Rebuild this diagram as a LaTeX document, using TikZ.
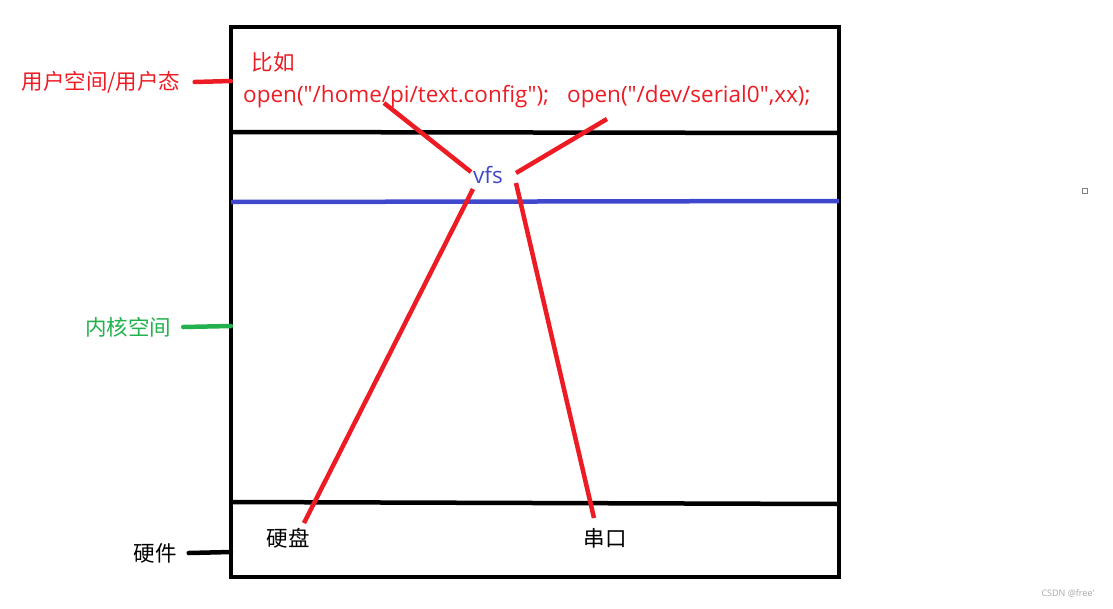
\documentclass[tikz,border=0pt]{standalone}
\usepackage{fontspec}
\setmainfont{Noto Sans CJK SC}
\newfontfamily\latinfont{Open Sans}
\usetikzlibrary{positioning,calc}
\definecolor{penred}{RGB}{237,28,36}
\definecolor{penblue}{RGB}{63,72,204}
\definecolor{pengreen}{RGB}{34,177,76}
\tikzset{
    redline/.style={draw=penred,line width=4.5pt},
    blackline/.style={draw=black,line width=4.5pt},
    lbl/.style={inner sep=0pt,font=\fontsize{21.5}{21.5}\selectfont},
    code/.style={inner sep=0pt,text=penred,font=\latinfont\fontsize{22.5}{22.5}\selectfont}
}
\begin{document}
\begin{tikzpicture}[x=1pt,y=-1pt]
    \useasboundingbox (0,0) rectangle (1113,608);

    % layers
    \draw[blackline] (231,27) rectangle (839,577);
    \draw[blackline] (231,132) -- (839,133);
    \draw[draw=penblue,line width=4.5pt] (231,202) -- (839,201);
    \draw[blackline] (231,502) -- (839,504);

    % labels on the left
    \node[lbl,text=penred] (user) at (101,82) {用户空间/用户态};
    \node[lbl,text=pengreen] (kernel) at (128,327) {内核空间};
    \node[lbl] (hw) at (155,553) {硬件};
    \coordinate (userend) at (231,81);
    \coordinate (kernelend) at (231,326);
    \coordinate (hwend) at (231,552);
    \draw[redline,line cap=round] ([xshift=14pt]user.east) -- (userend);
    \draw[draw=pengreen,line width=4.5pt,line cap=round] ([xshift=12pt]kernel.east) -- (kernelend);
    \draw[blackline,line cap=round] ([xshift=12pt]hw.east) -- (hwend);

    % user space
    \node[lbl,text=penred] (eg) at (273,62) {比如};
    \node[code,anchor=west] (open1) at (243,97) {open("/home/pi/text.config");};
    \node[code,anchor=west] (open2) at (567,97) {open("/dev/serial0",xx);};

    % vfs
    \node[inner sep=0pt,text=penblue,font=\latinfont\fontsize{22.5}{22.5}\selectfont] (vfs) at (488,175) {vfs};

    % hardware
    \node[lbl] (disk) at (288,538) {硬盘};
    \node[lbl] (serial) at (605,538) {串口};

    \coordinate (a1) at (384,103);
    \coordinate (a2) at (607,119);
    \coordinate (v1) at (471,172);
    \coordinate (v2) at (516,173);
    \coordinate (v3) at (473,189);
    \coordinate (v4) at (516,183);
    \coordinate (d1) at (304,523);
    \coordinate (s1) at (594,518);
    \draw[redline] (a1) -- (v1);
    \draw[redline] (a2) -- (v2);
    \draw[redline] (v3) -- (d1);
    \draw[redline] (v4) -- (s1);

    % small marks
    \draw[gray,line width=1pt] (1082,188) rectangle (1087,193);
    \node[inner sep=0pt,text=gray!70,font=\latinfont\fontsize{9}{9}\selectfont] (mark) at (1068,593) {CSDN @free'};
\end{tikzpicture}
\end{document}
